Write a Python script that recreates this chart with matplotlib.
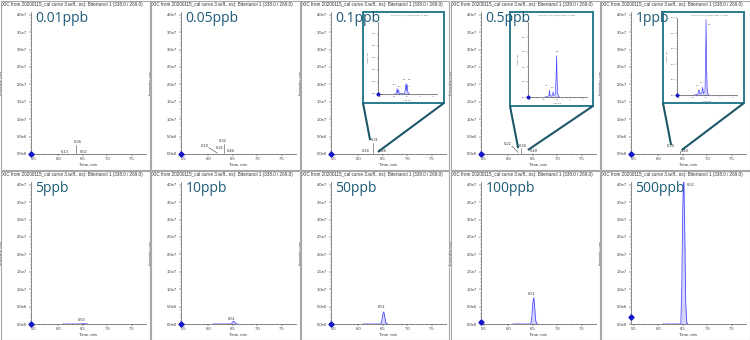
import matplotlib
matplotlib.use('Agg')
import matplotlib.pyplot as plt
from matplotlib.lines import Line2D
from matplotlib.patches import Rectangle
from matplotlib.ticker import AutoMinorLocator

# ---- data ----
concs = ['0.01ppb', '0.05ppb', '0.1ppb', '0.5ppb', '1ppb',
         '5ppb', '10ppb', '50ppb', '100ppb', '500ppb']
xic_title = 'XIC from 20200115_cal curve 3.wiff...ns): Bitertanol 1 (338.0 / 269.0)'

x_ticks = [5.5, 6.0, 6.5, 7.0, 7.5]
x_ticklabels = ['5.5', '6.0', '6.5', '7.0', '7.5']
y_ticks = [0, 5e6, 1e7, 1.5e7, 2e7, 2.5e7, 3e7, 3.5e7, 4e7]
y_ticklabels = ['0.0e0', '5.0e6', '1.0e7', '1.5e7', '2.0e7', '2.5e7', '3.0e7', '3.5e7', '4.0e7']

# main traces (time, min / intensity, cps)
t_flat = [6.10, 6.60]
y_flat = [0, 0]
t_peak = [6.10, 6.46, 6.48, 6.50, 6.52, 6.54, 6.56, 6.58, 6.60]
y_5ppb = [0, 0, 0.3e5, 1.0e5, 1.2e5, 0.7e5, 0.2e5, 0, 0]
y_10ppb = [0, 0, 0.2e6, 0.6e6, 0.8e6, 0.5e6, 0.1e6, 0, 0]
y_50ppb = [0, 0, 0.9e6, 2.8e6, 3.5e6, 2.1e6, 0.5e6, 0.05e6, 0]
y_100ppb = [0, 0, 1.8e6, 6.0e6, 7.6e6, 4.5e6, 1.0e6, 0.1e6, 0]
y_500ppb = [0, 0, 1.1e7, 3.4e7, 4.3e7, 2.6e7, 0.6e7, 0.05e7, 0]

# retention time labels per panel
rt_labels = [['6.13', '6.36', '6.52'],
             ['6.19', '6.35', '6.32', '6.46'],
             ['6.31', '6.16', '6.46'],
             ['6.22', '6.36', '6.49'],
             ['6.36', '6.49'],
             ['6.50'], ['6.51'], ['6.51'], ['6.51'], ['6.52']]

# zoomed insets (low levels)
ins_t_01 = [6.05, 6.10, 6.13, 6.15, 6.18, 6.21, 6.40, 6.44, 6.46, 6.48, 6.50, 6.52, 6.55, 6.60]
ins_y_01 = [0, 0.1e5, 0.9e5, 0.2e5, 0.7e5, 0.05e5, 0.05e5, 0.6e5, 1.6e5, 0.5e5, 1.7e5, 0.9e5, 0.1e5, 0]
ins_lab_01 = ['6.13', '6.16', '6.46', '6.51', '6.52']
ins_t_05 = [6.05, 6.15, 6.20, 6.22, 6.24, 6.30, 6.34, 6.36, 6.38, 6.44, 6.47, 6.49, 6.51, 6.53, 6.56, 6.60]
ins_y_05 = [0, 0.05e5, 0.2e5, 0.9e5, 0.2e5, 0.1e5, 0.3e5, 0.7e5, 0.2e5, 0.3e5, 2.5e5, 5.5e5, 2.0e5, 0.6e5, 0.1e5, 0]
ins_lab_05 = ['6.49', '6.22', '6.36']
ins_t_1 = [6.05, 6.18, 6.22, 6.26, 6.33, 6.36, 6.39, 6.45, 6.47, 6.49, 6.51, 6.53, 6.56, 6.60]
ins_y_1 = [0, 0.1e5, 0.7e5, 0.1e5, 0.3e5, 1.0e5, 0.2e5, 0.5e5, 4.0e5, 9.8e5, 3.5e5, 0.8e5, 0.1e5, 0]
ins_lab_1 = ['6.49', '6.36', '6.22']
ins_y_ticks = [0, 2e5, 4e5, 6e5, 8e5, 1e6]
ins_y_ticklabels = ['0.0e0', '2.0e5', '4.0e5', '6.0e5', '8.0e5', '1.0e6']

# ---- figure ----
W, H = 750, 340
PW, PH = 150, 170
fig = plt.figure(figsize=(7.5, 3.4), dpi=100)
plt.rcParams['font.family'] = ['Liberation Sans', 'DejaVu Sans']

TRACE = '#4b4bff'
BASE = '#3a3ab0'
TEAL = '#2a7c8e'
TEAL_D = '#1d5769'
LABEL = '#1f5b78'


def fbox(x, y, w, h):
    # pixel box, origin top-left -> figure fraction rect
    return [x / W, 1 - (y + h) / H, w / W, h / H]


def fpt(x, y):
    return x / W, 1 - y / H


def style_axes(ax, fs, tl, ml):
    for s in ['top', 'right']:
        ax.spines[s].set_visible(False)
    for s in ['left', 'bottom']:
        ax.spines[s].set_linewidth(0.4)
        ax.spines[s].set_color('#333333')
    ax.tick_params(which='major', length=tl, width=0.35, pad=0.8, labelsize=fs,
                   colors='#333333')
    ax.tick_params(which='minor', length=ml, width=0.3, colors='#555555')
    ax.xaxis.set_minor_locator(AutoMinorLocator(5))
    ax.yaxis.set_minor_locator(AutoMinorLocator(5))


def draw_trace(ax, t, y):
    ax.fill_between(t, y, color='#b8b8ff', alpha=0.6, lw=0)
    ax.plot(t, y, color=TRACE, lw=0.6)
    ax.plot(t_flat, y_flat, color=BASE, lw=0.7)


# label placement (data coords) and leader lines per panel
lab_pos = [[(6.12, 0.66e6), (6.39, 3.5e6), (6.51, 0.66e6)],
           [(5.93, 2.3e6), (6.22, 1.6e6), (6.29, 3.8e6), (6.46, 0.95e6)],
           [(6.34, 4.0e6), (6.14, 0.95e6), (6.49, 0.95e6)],
           [(5.98, 2.9e6), (6.30, 2.3e6), (6.51, 0.95e6)],
           [(6.26, 2.3e6), (6.54, 0.95e6)],
           [(6.48, 1.15e6)], [(6.48, 1.4e6)], [(6.48, 4.8e6)], [(6.48, 8.6e6)],
           [(6.66, 4.0e7)]]
leaders = [[(6.37, 0.4e6, 6.37, 2.5e6)],
           [(6.01, 1.8e6, 6.18, 0.3e6), (6.31, 0.4e6, 6.31, 2.9e6)],
           [(6.30, 0.4e6, 6.30, 3.3e6)],
           [(6.07, 2.3e6, 6.20, 0.5e6), (6.25, 0.4e6, 6.25, 1.8e6)],
           [(6.45, 0.3e6, 6.45, 0.9e6)],
           [], [], [], [], []]
main_traces = [(t_flat, y_flat)] * 5 + [(t_peak, y_5ppb), (t_peak, y_10ppb),
                                        (t_peak, y_50ppb), (t_peak, y_100ppb),
                                        (t_peak, y_500ppb)]
diamond_y = [0, 0, 0, 0, 0, 0, 0, 0, 0.5e6, 2.1e6]

axes = []
for i, name in enumerate(concs):
    r, c = divmod(i, 5)
    x0, y0 = c * PW, r * PH
    fig.add_artist(Rectangle(fpt(x0 + 0.5, y0 + PH - 0.5), (PW - 1) / W, (PH - 1) / H,
                             transform=fig.transFigure, fill=False,
                             edgecolor='#a8a8a8', lw=0.8))
    fig.text(*fpt(x0 + 2, y0 + 4.5), xic_title, fontsize=3.35, color='#333333',
             va='center', ha='left')

    ax = fig.add_axes(fbox(x0 + 30.6, y0 + 12, 115.6, 142))
    t, y = main_traces[i]
    draw_trace(ax, t, y)
    ax.set_xlim(5.43, 7.8)
    ax.set_ylim(0, 4.08e7)
    ax.set_xticks(x_ticks, x_ticklabels)
    ax.set_yticks(y_ticks, y_ticklabels)
    style_axes(ax, 3.0, 1.6, 0.9)
    ax.set_xlabel('Time, min', fontsize=3.1, labelpad=0.8, color='#333333')
    ax.set_ylabel('Intensity, cps', fontsize=3.1, labelpad=5, color='#333333')
    ax.yaxis.set_label_coords(-0.235, 0.5)
    ax.plot([5.43], [diamond_y[i]], marker='D', ms=2.6, color='#1414c8',
            clip_on=False, zorder=5)
    for txt, (lx, ly) in zip(rt_labels[i], lab_pos[i]):
        ax.text(lx, ly, txt, fontsize=2.9, ha='center', va='center', color='#333333')
    for (a, b, cc, d) in leaders[i]:
        ax.plot([a, cc], [b, d], color='#444444', lw=0.4)
    fig.text(*fpt(x0 + 35.5, y0 + 11), name, fontsize=10, color=LABEL,
             family=['Open Sans', 'DejaVu Sans'], va='top', ha='left')
    axes.append(ax)


def to_fig(ax, x, y):
    p = ax.transData.transform((x, y))
    return fig.transFigure.inverted().transform(p)


insets = [(2, (63, 12, 81, 91), (78, 22, 59, 72), ins_t_01, ins_y_01, 1.2e6,
           ins_lab_01, [(6.05, 1.6e5), (6.24, 1.3e5), (6.40, 2.4e5), (6.62, 2.4e5), (6.58, 1.2e5)],
           (6.24, 4.0e6), (6.40, 0.6e6)),
          (3, (60, 12, 83, 94), (78, 22, 59, 75), ins_t_05, ins_y_05, 1.0e6,
           ins_lab_05, [(6.53, 6.0e5), (6.10, 1.5e5), (6.33, 1.2e5)],
           (6.20, 1.7e6), (6.40, 1.15e6)),
          (4, (63, 12, 81, 91), (77, 18, 60, 77), ins_t_1, ins_y_1, 1.0e6,
           ins_lab_1, [(6.62, 9.2e5), (6.34, 1.6e5), (6.16, 1.2e5)],
           (6.26, 2.6e6), (6.48, 1.15e6))]

for (i, box, abox, t, y, ymax, labs, lpos, p_left, p_right) in insets:
    r, c = divmod(i, 5)
    x0, y0 = c * PW, r * PH
    main = axes[i]
    bx, by, bw, bh = box
    # connector lines from the box corners to the peak cluster
    for (cx, cy), pk in [((bx, by + bh), p_left), ((bx + bw, by + bh), p_right)]:
        fx, fy = fpt(x0 + cx, y0 + cy)
        px, py = to_fig(main, *pk)
        fig.add_artist(Line2D([fx, px], [fy, py], transform=fig.transFigure,
                              color=TEAL_D, lw=1.5, solid_capstyle='butt', zorder=6))
    frame = fig.add_axes(fbox(x0 + bx, y0 + by, bw, bh))
    frame.set_xticks([])
    frame.set_yticks([])
    frame.set_facecolor('white')
    for s in frame.spines.values():
        s.set_color(TEAL)
        s.set_linewidth(1.4)
    frame.text(0.34, 0.975, xic_title[:48], fontsize=1.3, color='#444444',
               transform=frame.transAxes, va='top', ha='left')

    ia = fig.add_axes(fbox(x0 + abox[0], y0 + abox[1], abox[2], abox[3]))
    ia.fill_between(t, y, color='#b8b8ff', alpha=0.6, lw=0)
    ia.plot(t, y, color=TRACE, lw=0.5)
    ia.set_xlim(5.4, 7.65)
    ia.set_ylim(0, ymax)
    ia.set_xticks(x_ticks, x_ticklabels)
    ia.set_yticks(ins_y_ticks, ins_y_ticklabels)
    style_axes(ia, 1.3, 0.9, 0.5)
    ia.tick_params(pad=0.5)
    ia.set_xlabel('Time, min', fontsize=1.4, labelpad=0.5, color='#444444')
    ia.set_ylabel('Intensity, cps', fontsize=1.4, labelpad=2, color='#444444')
    ia.plot([5.4], [0], marker='D', ms=1.6, color='#1414c8', clip_on=False, zorder=5)
    for txt, (lx, ly) in zip(labs, lpos):
        ia.text(lx, ly, txt, fontsize=1.4, ha='center', va='center', color='#333333')

fig.savefig('out.png', dpi=100, facecolor='white')
